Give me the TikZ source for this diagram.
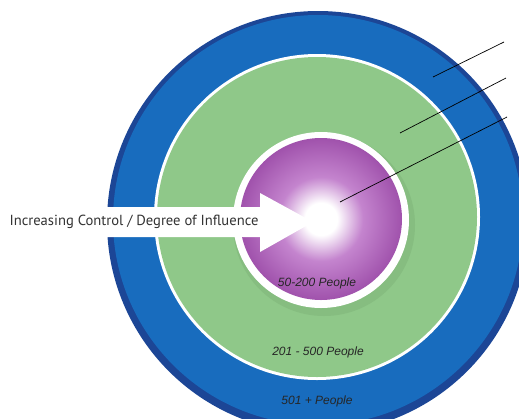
\documentclass[tikz,border=0pt]{standalone}
\usepackage{fontspec}
\setmainfont{Liberation Sans}
\newfontfamily\arrowfont{PT Sans}
\definecolor{ringblue}{RGB}{24,108,190}
\definecolor{rimblue}{RGB}{28,70,150}
\definecolor{ringgreen}{RGB}{143,200,137}
\definecolor{shadegreen}{RGB}{118,170,112}
\definecolor{corepurple}{RGB}{160,82,172}
\definecolor{midpurple}{RGB}{196,132,206}
\pgfdeclareradialshading{corelight}{\pgfpoint{0bp}{0bp}}{%
  color(0bp)=(white); color(5bp)=(white); color(13bp)=(midpurple);
  color(25bp)=(corepurple); color(50bp)=(corepurple)}
\tikzset{
  ringlabel/.style={font=\itshape\fontsize{12}{14}\selectfont, text=black!85},
  leader/.style={black, line width=0.7pt}
}
\begin{document}
\begin{tikzpicture}[x=1pt,y=-1pt]
  \useasboundingbox (0,0) rectangle (519,418);
  \clip (0,0) rectangle (519,418);
  % rings
  \fill[rimblue] (318,222) circle[radius=211];
  \fill[ringblue] (318,220) circle[radius=205];
  \fill[white] (317,217) circle[radius=163];
  \fill[ringgreen] (317,217) circle[radius=160];
  \fill[shadegreen!35!ringgreen] (324,225) circle[radius=91];
  \fill[white] (321,220) circle[radius=88];
  \shade[shading=corelight] (321,219) circle[radius=81];
  % arrow
  \fill[white] (0,207) -- (260,207) -- (260,193) -- (313,222)
    -- (260,252) -- (260,237) -- (0,237) -- cycle;
  \node[anchor=west, font=\arrowfont\fontsize{14.6}{16}\selectfont, text=black!80]
    (influence) at (6,222) {Increasing Control / Degree of Influence};
  % labels
  \node[ringlabel] (core) at (317,283) {50-200 People};
  \node[ringlabel] (middle) at (318,352) {201 - 500 People};
  \node[ringlabel] (outer) at (317,401) {501 + People};
  % leaders
  \coordinate (outerpt) at (433,77);
  \coordinate (outerend) at (504,42);
  \coordinate (middlept) at (400,133);
  \coordinate (middleend) at (506,78);
  \coordinate (corept) at (340,202);
  \coordinate (coreend) at (507,117);
  \draw[leader] (outerpt) -- (outerend);
  \draw[leader] (middlept) -- (middleend);
  \draw[leader] (corept) -- (coreend);
\end{tikzpicture}
\end{document}
